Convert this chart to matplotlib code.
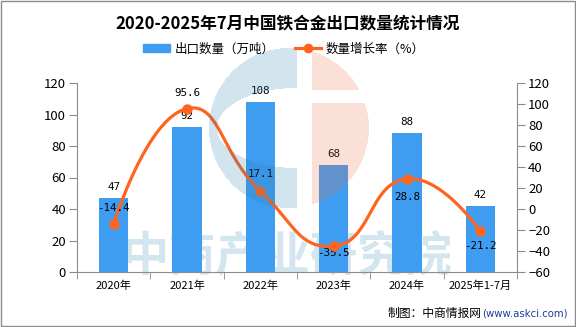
import numpy as np
import matplotlib
matplotlib.use("Agg")
import matplotlib.pyplot as plt
from matplotlib.patches import Patch, Rectangle
from matplotlib.lines import Line2D

plt.rcParams['font.family'] = ['Noto Sans CJK SC', 'DejaVu Sans']

years = ['2020年', '2021年', '2022年', '2023年', '2024年', '2025年1-7月']
export_qty = [47, 92, 108, 68, 88, 42]           # 万吨
growth = [-14.4, 95.6, 17.1, -35.5, 28.8, -21.2]  # %
# label offsets for the growth rate (pixels, + is downward)
growth_label_dy = [-16, -16, -17, 7, 18, 15]

bar_color = '#3e9df1'
line_color = '#ff641e'
axis_grey = '#8c8c8c'

W, H = 576, 327
fig = plt.figure(figsize=(W / 100, H / 100), dpi=100)

# plot area in pixels
x0, x1, y_top, y_bot = 77, 517, 83, 272
ax = fig.add_axes([x0 / W, 1 - y_bot / H, (x1 - x0) / W, (y_bot - y_top) / H])
ax2 = ax.twinx()

xs = np.arange(len(years))

# watermark text behind the bars
fig.text(287 / W, 1 - 256 / H, '中商产业研究院', fontsize=34, fontweight='bold',
         color='#d3e5ef', ha='center', va='center', zorder=0.5)
ax.set_zorder(1)
ax.patch.set_visible(False)
ax2.set_zorder(2)

ax.bar(xs, export_qty, width=0.4, color=bar_color, zorder=2)
for x, v in zip(xs, export_qty):
    ax.annotate(str(v), (x, v), xytext=(0, 11), textcoords='offset pixels',
                ha='center', va='center', fontsize=7.8, family='DejaVu Sans Mono')

ax.set_xlim(-0.5, len(years) - 0.5)
ax.set_ylim(0, 120)
ax.set_yticks(range(0, 121, 20))
ax.set_xticks(xs)
ax.set_xticklabels(years, fontsize=8)
ax.set_xticks(np.arange(-0.5, len(years), 1), minor=True)
ax.tick_params(axis='x', which='major', length=0, pad=6)
ax.tick_params(axis='x', which='minor', length=5, color=axis_grey, direction='out')
ax.tick_params(axis='y', length=6, color=axis_grey, labelsize=9.5, pad=2)
for s in ['top', 'right']:
    ax.spines[s].set_visible(False)
for s in ['left', 'bottom']:
    ax.spines[s].set_color(axis_grey)

ax2.set_ylim(-60, 120)
ax2.set_yticks(range(-60, 121, 20))
ax2.tick_params(axis='y', length=6, color=axis_grey, labelsize=9.5, pad=2)
for s in ['top', 'left', 'bottom']:
    ax2.spines[s].set_visible(False)
ax2.spines['right'].set_color(axis_grey)


def smooth_curve(xv, yv, sx, sy, smooth=0.5, steps=40):
    # bezier smoothing done in pixel space, like a smoothed line series
    p = np.column_stack([np.asarray(xv, float) * sx, np.asarray(yv, float) * sy])
    n = len(p)
    cp_next = p.copy()
    cp_prev = p.copy()
    for i in range(1, n - 1):
        v = p[i + 1] - p[i - 1]
        d0 = np.hypot(*(p[i] - p[i - 1]))
        d1 = np.hypot(*(p[i + 1] - p[i]))
        r = d1 / (d0 + d1)
        cp_next[i] = p[i] + v * smooth * r
        cp_prev[i] = p[i] - v * smooth * (1 - r)
    t = np.linspace(0, 1, steps)[:, None]
    out = []
    for i in range(n - 1):
        a, b, c, d = p[i], cp_next[i], cp_prev[i + 1], p[i + 1]
        seg = ((1 - t) ** 3) * a + 3 * ((1 - t) ** 2) * t * b + 3 * (1 - t) * t ** 2 * c + t ** 3 * d
        out.append(seg if i == 0 else seg[1:])
    out = np.vstack(out)
    return out[:, 0] / sx, out[:, 1] / sy


cx, cy = smooth_curve(xs, growth, (x1 - x0) / len(years), (y_bot - y_top) / 180)
ax2.plot(cx, cy, color=line_color, lw=2.3, solid_capstyle='round', zorder=3)
ax2.plot(xs, growth, 'o', color=line_color, ms=6.5, zorder=4)
for x, v, dy in zip(xs, growth, growth_label_dy):
    ax2.annotate(f'{v:.1f}', (x, v), xytext=(0, -dy), textcoords='offset pixels',
                 ha='center', va='center', fontsize=7.8, family='DejaVu Sans Mono')

# title, legend, source
fig.text(288 / W, 1 - 23 / H, '2020-2025年7月中国铁合金出口数量统计情况',
         fontsize=12, fontweight='bold', ha='center', va='center')
handles = [Patch(color=bar_color),
           Line2D([], [], color=line_color, lw=2.3, marker='o', ms=6)]
fig.legend(handles, ['出口数量（万吨）', '数量增长率（%）'], loc='center',
           bbox_to_anchor=(284 / W, 1 - 49 / H), ncol=2, frameon=False,
           fontsize=9, handlelength=2.1, handleheight=0.6, handletextpad=0.4,
           columnspacing=1.6)
fig.text(482 / W, 1 - 313 / H, '制图：中商情报网', fontsize=8.5, ha='right', va='center')
fig.text(482 / W, 1 - 313 / H, '(www.askci.com)', fontsize=7.3, ha='left', va='center',
         color='#1f3c96', family='DejaVu Sans')

# logo watermark over the plot
ov = fig.add_axes([0, 0, 1, 1], zorder=5)
ov.set_xlim(0, W)
ov.set_ylim(H, 0)
ov.axis('off')
yy, xx = np.mgrid[0:H, 0:W] + 0.5
circle = (xx - 289) ** 2 + (yy - 128) ** 2 <= 80 ** 2
hole = ((xx - 297) / 80) ** 2 + ((yy - 128) / 40) ** 2 < 1
blue = circle & (xx < 297) & ~hole
pink = circle & (xx >= 312) & ~((yy >= 90) & (yy <= 103))
img = np.zeros((H, W, 4))
img[blue] = [43 / 255, 126 / 255, 174 / 255, 0.21]
img[pink] = [233 / 255, 107 / 255, 60 / 255, 0.21]
ov.imshow(img, extent=[0, W, H, 0], interpolation='bilinear')
ov.add_patch(Rectangle((0.5, 0.5), W - 1.5, H - 1.5, fill=False, ec='#8c8c8c', lw=1))

fig.savefig('out.png', dpi=100)
